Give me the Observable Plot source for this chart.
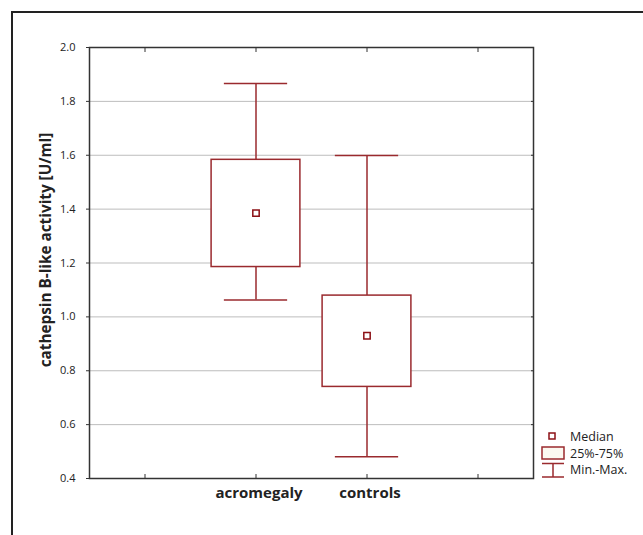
<!DOCTYPE html>
<html><head><meta charset="utf-8">
<script src="https://cdn.jsdelivr.net/npm/d3@7"></script>
<script src="https://cdn.jsdelivr.net/npm/@observablehq/plot@0.6"></script>
<style>
body{margin:0;background:#fff;}
#wrap{position:relative;width:643px;height:535px;overflow:hidden;}
#frame{position:absolute;left:11px;top:11px;width:700px;height:600px;border-top:2.5px solid #222;border-left:2.5px solid #222;box-sizing:border-box;}
#chart{position:absolute;left:0;top:0;}
</style></head><body><div id="wrap"><div id="frame"></div><div id="chart"></div></div>
<script>
const categories = ["acromegaly", "controls"];
const categoryPos = [1, 2];
const minVals = [1.063, 0.481];
const q1Vals = [1.185, 0.740];
const medianVals = [1.385, 0.930];
const q3Vals = [1.583, 1.079];
const maxVals = [1.866, 1.599];
const yTicks = [0.4, 0.6, 0.8, 1.0, 1.2, 1.4, 1.6, 1.8, 2.0];
const gridTicks = [0.6, 0.8, 1.0, 1.2, 1.4, 1.6, 1.8];
const xTickPos = [0, 1, 2, 3];
const yTitle = "cathepsin B-like activity [U/ml]";
const legendLabels = ["Median", "25%-75%", "Min.-Max."];

const data = categories.map((c, i) => ({
  cat: c, pos: categoryPos[i], min: minVals[i], q1: q1Vals[i],
  median: medianVals[i], q3: q3Vals[i], max: maxVals[i]
}));

const lineColor = "#9a2a2e";
const medColor = "#8c1016";
const boxHalf = 0.4, capHalf = 0.285;
const font = "'Open Sans', sans-serif";

const plot = Plot.plot({
  width: 643, height: 535,
  marginLeft: 89, marginRight: 110, marginTop: 47, marginBottom: 57,
  style: {fontFamily: font, background: "transparent", color: "#222"},
  x: {type: "linear", domain: [-0.5, 3.5]},
  y: {domain: [0.4, 2.0]},
  marks: [
    Plot.gridY(gridTicks, {stroke: "#bdbdbd", strokeOpacity: 1, strokeWidth: 1}),
    Plot.ruleX(data, {x: "pos", y1: "min", y2: "q1", stroke: lineColor, strokeWidth: 1.5}),
    Plot.ruleX(data, {x: "pos", y1: "q3", y2: "max", stroke: lineColor, strokeWidth: 1.5}),
    Plot.ruleY(data, {y: "min", x1: d => d.pos - capHalf, x2: d => d.pos + capHalf, stroke: lineColor, strokeWidth: 1.5}),
    Plot.ruleY(data, {y: "max", x1: d => d.pos - capHalf, x2: d => d.pos + capHalf, stroke: lineColor, strokeWidth: 1.5}),
    Plot.rect(data, {x1: d => d.pos - boxHalf, x2: d => d.pos + boxHalf, y1: "q1", y2: "q3", fill: "white", stroke: lineColor, strokeWidth: 1.5}),
    Plot.dot(data, {x: "pos", y: "median", symbol: "square", r: 3.6, fill: "white", stroke: medColor, strokeWidth: 1.5}),
    Plot.frame({stroke: "#333", strokeWidth: 1.5}),
    Plot.axisY(yTicks, {anchor: "left", tickSize: 3, tickPadding: 11, tickFormat: d3.format(".1f"), fontSize: 11, label: null, stroke: "#333"}),
    Plot.axisY(gridTicks, {anchor: "right", tickSize: -3, tickFormat: () => "", label: null, stroke: "#333"}),
    Plot.axisX(xTickPos, {anchor: "bottom", tickSize: -4, tickFormat: () => "", label: null, stroke: "#333"}),
    Plot.axisX(xTickPos, {anchor: "top", tickSize: -4, tickFormat: () => "", label: null, stroke: "#333"}),
    Plot.axisX(categoryPos, {anchor: "bottom", tickSize: 0, tickPadding: 9, dx: 3, tickFormat: d => categories[categoryPos.indexOf(d)], fontWeight: "bold", fontSize: 15, label: null})
  ]
});
document.getElementById("chart").append(plot);

const svg = d3.select(plot);
// y-axis title
svg.append("text")
  .attr("transform", "translate(51,250) rotate(-90)")
  .attr("text-anchor", "middle")
  .attr("font-family", font).attr("font-weight", "bold").attr("font-size", 15.3)
  .attr("fill", "#222")
  .text(yTitle);

// legend
const lg = svg.append("g").attr("font-family", font).attr("font-size", 12.5).attr("fill", "#222").attr("text-anchor", "start");
lg.append("rect").attr("x", 549).attr("y", 433).attr("width", 6).attr("height", 6)
  .attr("fill", "white").attr("stroke", medColor).attr("stroke-width", 1.5);
lg.append("rect").attr("x", 542).attr("y", 447).attr("width", 22).attr("height", 12)
  .attr("fill", "#fbf8f0").attr("stroke", lineColor).attr("stroke-width", 1.5);
lg.append("path").attr("d", "M542,463.5H564M553,463.5V477M542,477H564")
  .attr("fill", "none").attr("stroke", lineColor).attr("stroke-width", 1.5);
const ys = [441, 457.5, 474];
legendLabels.forEach((t, i) => lg.append("text").attr("x", 570).attr("y", ys[i]).text(t));
</script>
</body></html>
